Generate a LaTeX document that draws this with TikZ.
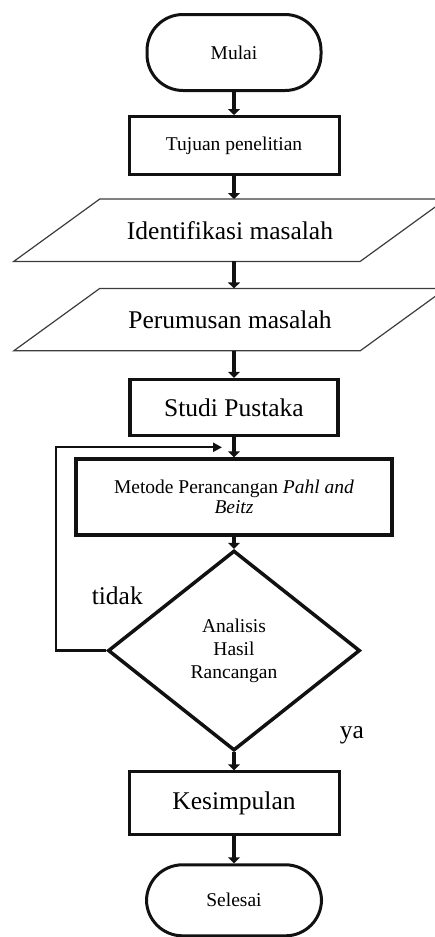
\documentclass[tikz,border=0pt]{standalone}
\usepackage{fontspec}
\setmainfont{Liberation Serif}
\usepackage{tikz}
\usetikzlibrary{arrows.meta,positioning,shapes.geometric,calc}
\definecolor{fline}{HTML}{111111}
\definecolor{ioline}{HTML}{3C3C3C}
\newcommand{\smalltxt}{\fontsize{19.5}{23}\selectfont}
\newcommand{\bigtxt}{\fontsize{25.5}{29}\selectfont}
\tikzset{
  term/.style={draw=fline, rounded corners=36pt, align=center, minimum width=174pt,
               minimum height=76pt, font=\smalltxt, line width=3pt},
  proc/.style={draw=fline, align=center, minimum width=210pt, minimum height=58pt,
               font=\smalltxt, line width=3pt},
  io/.style={align=center, minimum width=346pt, minimum height=62pt, font=\bigtxt, inner sep=0pt},
  ioedge/.style={draw=ioline, line width=1.2pt, line join=miter},
  dec/.style={diamond, draw=fline, aspect=1.26, align=center, minimum width=252pt,
              minimum height=200pt, inner sep=0pt, font=\smalltxt, line width=3.5pt},
  arr/.style={-{Triangle[length=6pt,width=12pt]}, draw=fline, line width=3.5pt},
  backarr/.style={-{Triangle[length=9pt,width=9pt]}, draw=fline, line width=2.2pt},
  lbl/.style={font=\fontsize{25.5}{29}\selectfont},
}
\begin{document}
\begin{tikzpicture}[x=1pt, y=1pt]
  \useasboundingbox (0,0) rectangle (434,-937);
  \node[term] (mulai) at (234,-52.5) {Mulai};
  \node[proc, below=23pt of mulai] (tujuan) {Tujuan penelitian};
  \node[io, below=23pt of tujuan, xshift=-4pt] (identifikasi) {Identifikasi masalah};
  \node[io, below=27pt of identifikasi] (perumusan) {Perumusan masalah};
  \node[proc, font=\bigtxt, line width=3.5pt, minimum width=208pt, minimum height=56pt,
        below=27pt of perumusan, xshift=4pt] (studi) {Studi Pustaka};
  \node[proc, line width=3.5pt, minimum width=316pt, minimum height=76pt, below=20pt of studi]
     (metode) {Metode Perancangan \textit{Pahl and}\\[-3pt]\textit{Beitz}};
  \node[dec, below=12pt of metode] (analisis) {Analisis\\Hasil\\Rancangan};
  \node[proc, font=\bigtxt, minimum height=63pt, below=18pt of analisis] (kesimpulan) {Kesimpulan};
  \node[term, minimum height=71pt, minimum width=175pt, below=27pt of kesimpulan] (selesai) {Selesai};
  \node[lbl] (tidak) at ($(analisis.west)+(11,55)$) {tidak};
  \node[lbl] (ya) at ($(analisis.south)+(118,17)$) {ya};
  \coordinate (balik) at ($(studi.south)!0.5!(metode.north)+(-12,0)$);

  \foreach \io in {identifikasi,perumusan}
    \draw[ioedge] ([xshift=-43pt]\io.south west) -- ([xshift=-43pt]\io.south east)
      -- ([xshift=43pt]\io.north east) -- ([xshift=43pt]\io.north west) -- cycle;

  \draw[arr] (mulai) -- (tujuan);
  \draw[arr] (tujuan) -- (identifikasi.north -| tujuan.south);
  \draw[arr] (identifikasi.south -| tujuan.south) -- (perumusan.north -| tujuan.south);
  \draw[arr] (perumusan.south -| studi.north) -- (studi);
  \draw[arr] (studi) -- (metode);
  \draw[arr] (metode) -- (analisis);
  \draw[arr] (analisis) -- (kesimpulan);
  \draw[arr] (kesimpulan) -- (selesai);
  \draw[backarr] (analisis.west) -- ++(-50,0) |- (balik);
\end{tikzpicture}
\end{document}
